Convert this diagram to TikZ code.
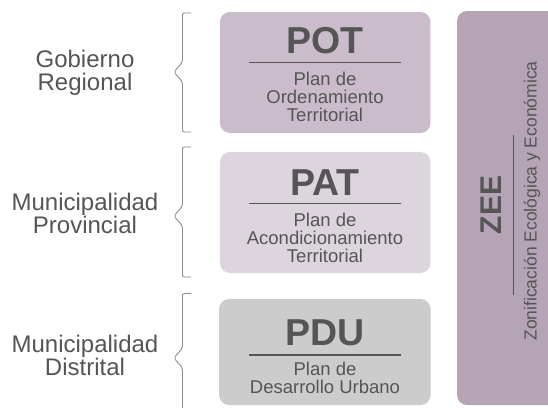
\documentclass[tikz,border=0pt]{standalone}
\usepackage{fontspec}
\setmainfont{Liberation Sans}

\definecolor{potlila}{RGB}{203,188,204}
\definecolor{patlila}{RGB}{221,213,221}
\definecolor{pdugrau}{RGB}{204,204,204}
\definecolor{zeelila}{RGB}{181,164,182}
\definecolor{schrift}{RGB}{85,85,85}
\definecolor{klammergrau}{RGB}{140,140,140}

\begin{document}
\begin{tikzpicture}[x=1pt,y=-1pt,
	feld/.style={rounded corners=10pt,inner sep=0pt},
	titel/.style={font=\fontsize{37.5}{37.5}\selectfont\bfseries,text=schrift,
		anchor=base,inner sep=0pt},
	untertitel/.style={font=\fontsize{18.5}{17.8}\selectfont,text=schrift,
		align=center,anchor=north,inner sep=0pt},
	ebene/.style={font=\fontsize{24}{23}\selectfont,text=schrift,
		align=center,anchor=north,inner sep=0pt},
	linie/.style={draw=schrift,line width=1.3pt},
	klammer/.style={draw=klammergrau,line width=0.9pt,rounded corners=2pt}]
\def\klammer#1#2#3{
	\draw[klammer] (191,#1) -- (182.5,#1) -- (182.5,{#2-10})
		-- (174,#2) -- (182.5,{#2+10}) -- (182.5,#3) -- (191,#3);
}
\path[use as bounding box,clip] (0,0) rectangle (548,407);

% Felder
\node[feld,fill=potlila,minimum width=210.5pt,minimum height=121pt]
	(pot) at (325.2,72.5) {};
\node[feld,fill=patlila,minimum width=210.5pt,minimum height=121pt]
	(pat) at (325.2,212.5) {};
\node[feld,fill=pdugrau,minimum width=211.5pt,minimum height=106pt]
	(pdu) at (324.8,352) {};
\node[feld,fill=zeelila,minimum width=110pt,minimum height=394pt]
	(zee) at (512,208) {};

% POT
\node[titel] (pottitel) at (325,53) {POT};
\draw[linie] (249,62.7) -- (401,62.7);
\node[untertitel] (potplan) at (325,72)
	{Plan de\\Ordenamiento\\Territorial};

% PAT
\node[titel] (pattitel) at (325,195.5) {PAT};
\draw[linie] (249,203.5) -- (401,203.5);
\node[untertitel] (patplan) at (325,213)
	{Plan de\\Acondicionamiento\\Territorial};

% PDU
\node[titel] (pdutitel) at (325,345) {PDU};
\draw[linie] (249,355) -- (401,355);
\node[untertitel] (pduplan) at (325,362)
	{Plan de\\Desarrollo Urbano};

% ZEE
\node[titel,font=\fontsize{30}{30}\selectfont\bfseries,rotate=90]
	(zeetitel) at (501.7,205) {ZEE};
\draw[linie] (513.3,135) -- (513.3,295);
\node[untertitel,font=\fontsize{17.5}{17.8}\selectfont,anchor=base,rotate=90]
	(zeeplan) at (536.7,201) {Zonificación Ecológica y Económica};

% Ebenen
\node[ebene] (region) at (85,49.5) {Gobierno\\Regional};
\node[ebene] (provinz) at (85,193) {Municipalidad\\Provincial};
\node[ebene] (distrikt) at (85,334.5) {Municipalidad\\Distrital};

\klammer{13}{72}{132}
\klammer{147}{216}{277}
\klammer{293.5}{358}{420}

\end{tikzpicture}
\end{document}
